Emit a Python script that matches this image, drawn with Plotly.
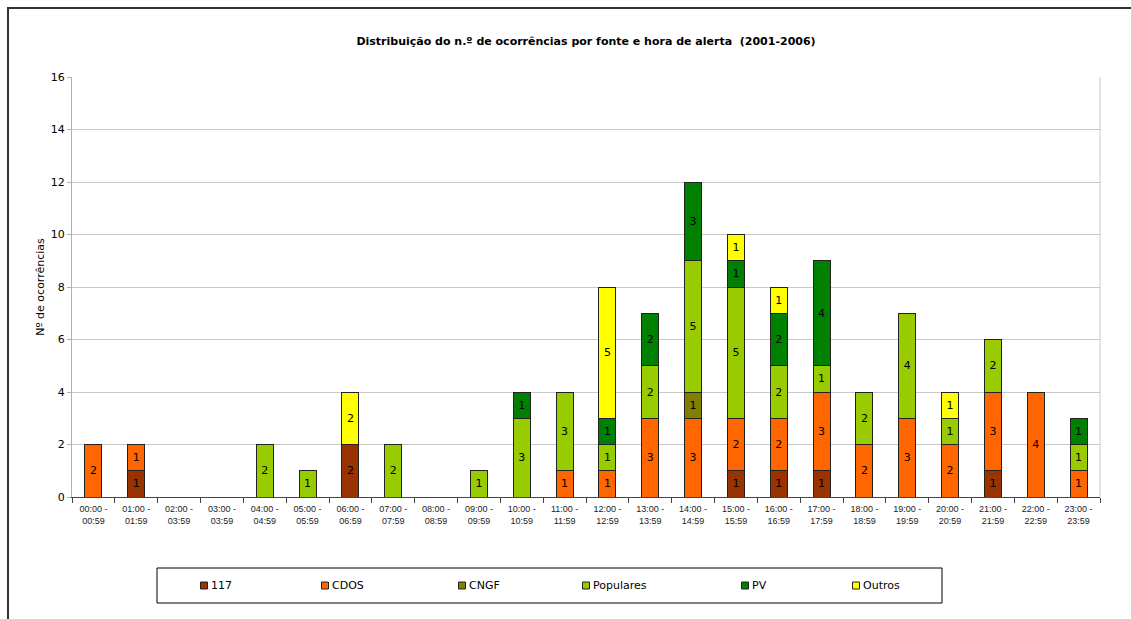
import plotly.graph_objects as go

hours = ["00:00 -<br>00:59", "01:00 -<br>01:59", "02:00 -<br>03:59", "03:00 -<br>03:59",
         "04:00 -<br>04:59", "05:00 -<br>05:59", "06:00 -<br>06:59", "07:00 -<br>07:59",
         "08:00 -<br>08:59", "09:00 -<br>09:59", "10:00 -<br>10:59", "11:00 -<br>11:59",
         "12:00 -<br>12:59", "13:00 -<br>13:59", "14:00 -<br>14:59", "15:00 -<br>15:59",
         "16:00 -<br>16:59", "17:00 -<br>17:59", "18:00 -<br>18:59", "19:00 -<br>19:59",
         "20:00 -<br>20:59", "21:00 -<br>21:59", "22:00 -<br>22:59", "23:00 -<br>23:59"]

s117 =      [0, 1, 0, 0, 0, 0, 2, 0, 0, 0, 0, 0, 0, 0, 0, 1, 1, 1, 0, 0, 0, 1, 0, 0]
cdos =      [2, 1, 0, 0, 0, 0, 0, 0, 0, 0, 0, 1, 1, 3, 3, 2, 2, 3, 2, 3, 2, 3, 4, 1]
cngf =      [0, 0, 0, 0, 0, 0, 0, 0, 0, 0, 0, 0, 0, 0, 1, 0, 0, 0, 0, 0, 0, 0, 0, 0]
populares = [0, 0, 0, 0, 2, 1, 0, 2, 0, 1, 3, 3, 1, 2, 5, 5, 2, 1, 2, 4, 1, 2, 0, 1]
pv =        [0, 0, 0, 0, 0, 0, 0, 0, 0, 0, 1, 0, 1, 2, 3, 1, 2, 4, 0, 0, 0, 0, 0, 1]
outros =    [0, 0, 0, 0, 0, 0, 2, 0, 0, 0, 0, 0, 5, 0, 0, 1, 1, 0, 0, 0, 1, 0, 0, 0]

series_names = ["117", "CDOS", "CNGF", "Populares", "PV", "Outros"]
series_values = [s117, cdos, cngf, populares, pv, outros]
series_colors = ["#993300", "#FF6600", "#808000", "#99CC00", "#008000", "#FFFF00"]

fig = go.Figure()
for name, vals, col in zip(series_names, series_values, series_colors):
    y = [v if v else None for v in vals]
    fig.add_trace(go.Bar(
        x=hours, y=y, name=name,
        marker=dict(color=col, line=dict(color="#222222", width=1)),
        text=[str(v) if v else "" for v in vals],
        textposition="inside", insidetextanchor="middle", textangle=0,
        insidetextfont=dict(family="DejaVu Sans", size=11, color="#000000"),
        hoverinfo="skip", showlegend=False,
    ))

W, H = 1131, 619
L, R, T, B = 72, 1100, 77, 497

def px(xp):
    return (xp - L) / (R - L)

def py(yp):
    return (B - yp) / (B - T)

shapes = [
    dict(type="line", xref="paper", yref="paper", x0=1, x1=1, y0=0, y1=1,
         line=dict(color="#c8c8c8", width=1)),
    dict(type="path", xref="paper", yref="paper",
         path=f"M {px(8)} {py(640)} L {px(8)} {py(8)} L {px(1140)} {py(8)}",
         line=dict(color="#333333", width=2)),
    # legend box
    dict(type="rect", xref="paper", yref="paper", x0=px(157), x1=px(942), y0=py(568), y1=py(603),
         line=dict(color="#000000", width=1), fillcolor="white"),
]
annotations = []
legend_x = [204, 325, 462, 586, 745, 856]
ly = 585.5
for name, col, lx in zip(series_names, series_colors, legend_x):
    shapes.append(dict(type="rect", xref="paper", yref="paper",
                       x0=px(lx - 3.5), x1=px(lx + 3.5), y0=py(ly + 3.5), y1=py(ly - 3.5),
                       line=dict(color="#222222", width=1), fillcolor=col))
    annotations.append(dict(xref="paper", yref="paper", x=px(lx + 5), y=py(ly),
                            xanchor="left", yanchor="middle", showarrow=False, text=name,
                            font=dict(family="DejaVu Sans", size=11, color="#000000")))

fig.update_layout(
    width=W, height=H,
    margin=dict(l=L, r=W - R, t=T, b=H - B),
    barmode="stack", bargap=0.6,
    plot_bgcolor="white", paper_bgcolor="white",
    uniformtext=dict(minsize=11, mode="show"),
    title=dict(text="<b>Distribuição do n.º de ocorrências por fonte e hora de alerta  (2001-2006)</b>",
               x=0.5, xref="paper", xanchor="center", y=1 - 41 / H, yanchor="middle",
               font=dict(family="DejaVu Sans", size=11, color="#000000")),
    showlegend=False,
    xaxis=dict(type="category", showgrid=False, showline=True, linecolor="#444444", linewidth=1,
               mirror=False, ticks="outside", tickson="boundaries", ticklen=5, tickcolor="#444444",
               tickangle=0, ticklabelstandoff=3,
               tickfont=dict(family="Liberation Sans", size=9, color="#222222")),
    yaxis=dict(range=[0, 16], dtick=2, showgrid=True, gridcolor="#c8c8c8", gridwidth=1,
               showline=True, linecolor="#b0b0b0", linewidth=1, ticks="outside", ticklen=4,
               tickcolor="#b0b0b0", zeroline=False,
               tickfont=dict(family="DejaVu Sans", size=11, color="#000000"),
               title=dict(text="Nº de ocorrências", standoff=3,
                          font=dict(family="DejaVu Sans", size=11, color="#000000"))),
    shapes=shapes,
    annotations=annotations,
)

fig.write_html("out.html")
